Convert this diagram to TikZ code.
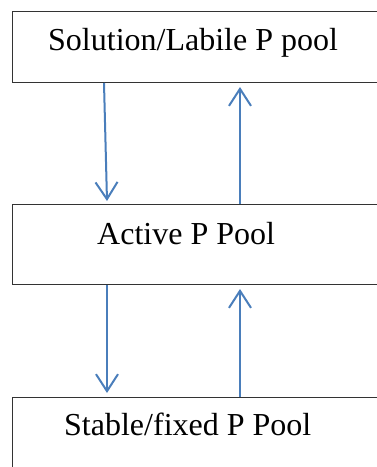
\documentclass[tikz,border=0pt]{standalone}
\usepackage{fontspec}
\setmainfont{Liberation Serif}
\usetikzlibrary{arrows.meta}
\definecolor{arrowblue}{HTML}{4A7EBB}
\definecolor{boxgray}{HTML}{333333}
\begin{document}
\begin{tikzpicture}[x=1pt,y=-1pt,
  poolbox/.style={draw=boxgray,line width=1pt,rectangle,inner sep=0pt,anchor=north west,minimum width=420pt},
  pooltext/.style={anchor=base west,inner sep=0pt,font=\fontsize{32}{36}\selectfont},
  flow/.style={draw=arrowblue,line width=2pt,-{Straight Barb[length=17pt,width=22pt,line width=2pt]}}]
\useasboundingbox (0,0) rectangle (377,467);
\clip (0,0) rectangle (377,467);
\node[poolbox,minimum height=71pt] (top) at (12,11) {};
\node[poolbox,minimum height=80pt] (mid) at (12,204) {};
\node[poolbox,minimum height=120pt] (bot) at (12,397) {};
\node[pooltext] (ttop) at (48,50) {Solution/Labile P pool};
\node[pooltext] (tmid) at (97,244) {Active P Pool};
\node[pooltext] (tbot) at (64,435) {Stable/fixed P Pool};
\draw[flow] ([xshift=92pt]top.south west) -- ([xshift=95pt,yshift=3pt]mid.north west);
\draw[flow] ([xshift=228pt]mid.north west) -- ([xshift=228pt,yshift=-4pt]top.south west);
\draw[flow] ([xshift=95pt]mid.south west) -- ([xshift=95pt,yshift=4pt]bot.north west);
\draw[flow] ([xshift=228pt]bot.north west) -- ([xshift=228pt,yshift=-4pt]mid.south west);
\end{tikzpicture}
\end{document}
